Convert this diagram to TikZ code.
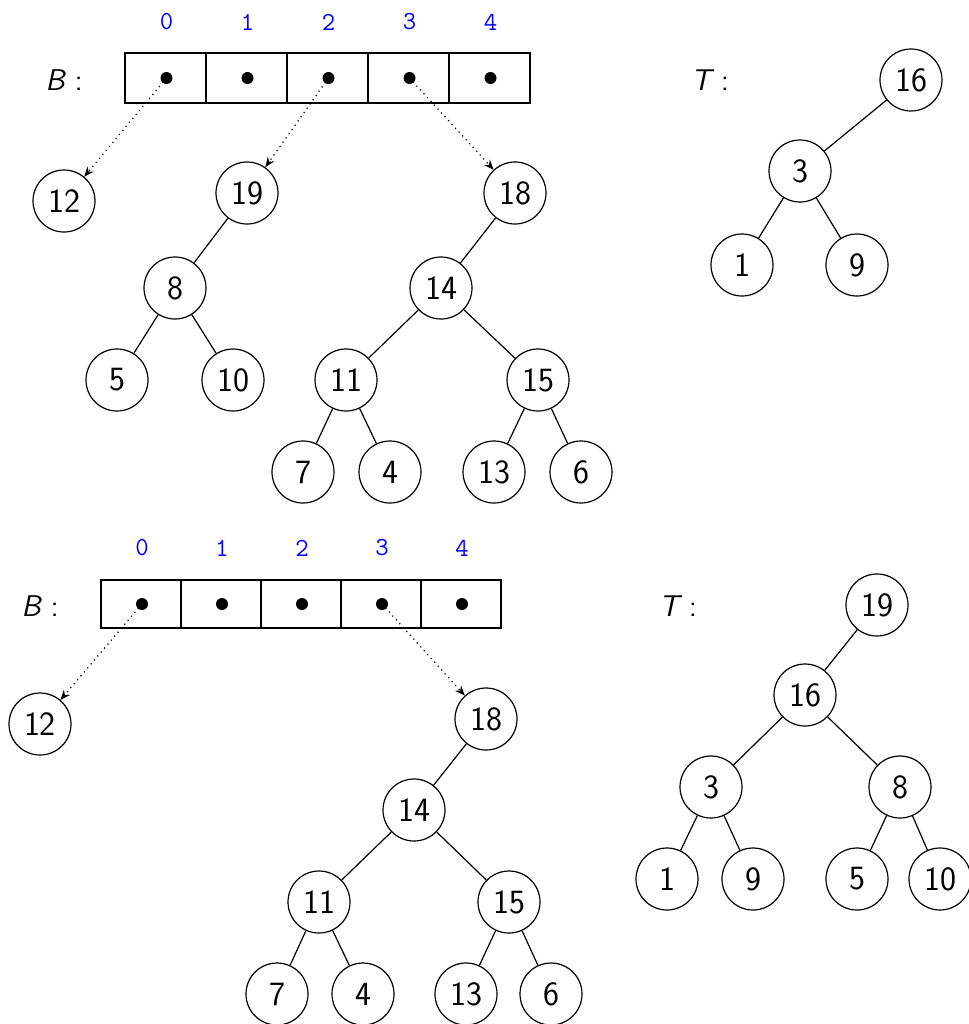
\documentclass[tikz,border=0pt]{standalone}
\usetikzlibrary{arrows.meta}
\begin{document}
\begin{tikzpicture}[x=0.5pt,y=-0.5pt,line width=0.6pt,
  font=\sffamily\fontsize{17}{20}\selectfont,
  tnode/.style={circle,draw,minimum size=31pt,inner sep=0pt},
  cell/.style={draw,rectangle,minimum width=40.5pt,minimum height=25pt,inner sep=0pt},
  dot/.style={circle,fill,minimum size=6pt,inner sep=0pt},
  idx/.style={text=blue,font=\ttfamily\fontsize{13}{15}\selectfont},
  lbl/.style={font=\sffamily\fontsize{15}{18}\selectfont},
  ptr/.style={dotted,-{Stealth[length=5pt,width=4pt]}}]
\useasboundingbox (0,0) rectangle (969,1024);

% ---------- top part ----------
\node[lbl] (bA) at (64,80) {\itshape B\upshape\ :};
\foreach \i/\x in {0/165.5,1/246.5,2/327.5,3/408.5,4/489.5}{
  \node[cell] (ac\i) at (\x,78) {};
  \node[dot] (ad\i) at (\x+1,78) {};
  \node[idx] (ai\i) at (\x+1,22) {\i};
}
\node[tnode] (a12) at (64,201) {12};
\node[tnode] (a19) at (247,193) {19};
\node[tnode] (a8) at (175,288) {8};
\node[tnode] (a5) at (117,380) {5};
\node[tnode] (a10) at (233,380) {10};
\node[tnode] (a18) at (515,193) {18};
\node[tnode] (a14) at (441,288) {14};
\node[tnode] (a11) at (346,380) {11};
\node[tnode] (a15) at (538,380) {15};
\node[tnode] (a7) at (303,472) {7};
\node[tnode] (a4) at (390,472) {4};
\node[tnode] (a13) at (494,472) {13};
\node[tnode] (a6) at (581,472) {6};
\draw (a19) -- (a8); \draw (a8) -- (a5); \draw (a8) -- (a10);
\draw (a18) -- (a14); \draw (a14) -- (a11); \draw (a14) -- (a15);
\draw (a11) -- (a7); \draw (a11) -- (a4); \draw (a15) -- (a13); \draw (a15) -- (a6);
\draw[ptr] (ad0.center) -- (a12);
\draw[ptr] (ad2.center) -- (a19);
\draw[ptr] (ad3.center) -- (a18);

\node[lbl] (tA) at (710,80) {\itshape T\upshape\ :};
\node[tnode] (t16) at (911,80) {16};
\node[tnode] (t3) at (800,171) {3};
\node[tnode] (t1) at (742,265) {1};
\node[tnode] (t9) at (857,265) {9};
\draw (t16) -- (t3); \draw (t3) -- (t1); \draw (t3) -- (t9);

% ---------- bottom part ----------
\node[lbl] (bB) at (40,606) {\itshape B\upshape\ :};
\foreach \i/\x in {0/141,1/221,2/301,3/381,4/461}{
  \node[cell,minimum width=40pt,minimum height=24pt] (bc\i) at (\x,604) {};
  \node[dot] (bd\i) at (\x+1,604) {};
  \node[idx] (bi\i) at (\x+1,548) {\i};
}
\node[tnode] (b12) at (40,724) {12};
\node[tnode] (b18) at (486,719) {18};
\node[tnode] (b14) at (414,810) {14};
\node[tnode] (b11) at (319,902) {11};
\node[tnode] (b15) at (509,902) {15};
\node[tnode] (b7) at (277,994) {7};
\node[tnode] (b4) at (363,994) {4};
\node[tnode] (b13) at (466,994) {13};
\node[tnode] (b6) at (551,994) {6};
\draw (b18) -- (b14); \draw (b14) -- (b11); \draw (b14) -- (b15);
\draw (b11) -- (b7); \draw (b11) -- (b4); \draw (b15) -- (b13); \draw (b15) -- (b6);
\draw[ptr] (bd0.center) -- (b12);
\draw[ptr] (bd3.center) -- (b18);

\node[lbl] (tB) at (678,606) {\itshape T\upshape\ :};
\node[tnode] (u19) at (877,605) {19};
\node[tnode] (u16) at (805,695) {16};
\node[tnode] (u3) at (711,787) {3};
\node[tnode] (u8) at (900,787) {8};
\node[tnode] (u1) at (667,879) {1};
\node[tnode] (u9) at (753,879) {9};
\node[tnode] (u5) at (857,879) {5};
\node[tnode] (u10) at (940,879) {10};
\draw (u19) -- (u16); \draw (u16) -- (u3); \draw (u16) -- (u8);
\draw (u3) -- (u1); \draw (u3) -- (u9); \draw (u8) -- (u5); \draw (u8) -- (u10);
\end{tikzpicture}
\end{document}
